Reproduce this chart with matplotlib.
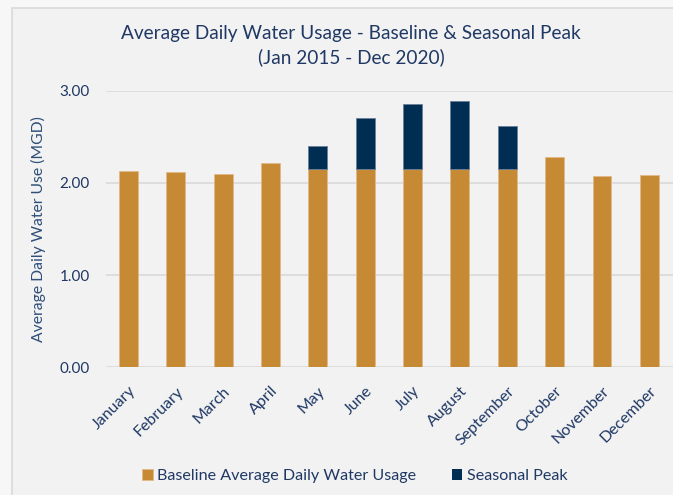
import matplotlib
matplotlib.use("Agg")
import matplotlib.pyplot as plt
from matplotlib.patches import Rectangle

months = ["January", "February", "March", "April", "May", "June", "July",
          "August", "September", "October", "November", "December"]
baseline = [2.13, 2.12, 2.10, 2.22, 2.15, 2.15, 2.15, 2.15, 2.15, 2.28, 2.07, 2.09]
peak = [0.0, 0.0, 0.0, 0.0, 0.25, 0.55, 0.71, 0.74, 0.47, 0.0, 0.0, 0.0]
yticks = [0.0, 1.0, 2.0, 3.0]

orange = "#c78a34"
navy = "#002d52"
text_c = "#1f3864"
bg = "#f2f2f2"

plt.rcParams['font.family'] = ['Lato', 'DejaVu Sans']

fig = plt.figure(figsize=(6.73, 4.95), dpi=100)
fig.patch.set_facecolor("#f7f7f7")
# chart area frame
frame = Rectangle((12/673, -0.1), 1.2, 1.1 - 8/495, transform=fig.transFigure,
                  facecolor=bg, edgecolor="#d9d9d9", linewidth=1.2, zorder=-5)
fig.add_artist(frame)

ax = fig.add_axes([106/673, 1 - 367.3/495, 1 - 106/673, (367.3 - 90.7)/495])
ax.set_facecolor("none")
ax.set_zorder(2)
x = list(range(len(months)))
ax.bar(x, baseline, width=0.40, color=orange, edgecolor="#e0b98a", linewidth=0.6,
       label="Baseline Average Daily Water Usage", zorder=3)
peak_edges = ["#6b7f99" if p > 0 else "none" for p in peak]
ax.bar(x, peak, width=0.40, bottom=baseline, color=navy, edgecolor=peak_edges, linewidth=0.6,
       label="Seasonal Peak", zorder=3)

ax.set_ylim(0, 3)
ax.set_xlim(-0.475, 11.5)
ax.set_yticks(yticks)
ax.set_yticklabels([f"{v:.2f}" for v in yticks], color=text_c, fontsize=11)
ax.yaxis.grid(True, color="#d9d9d9", linewidth=1.2, zorder=0)
ax.set_axisbelow(True)
for s in ax.spines.values():
    s.set_visible(False)
ax.tick_params(axis="both", length=0)
ax.tick_params(axis="y", pad=11.5)
ax.set_xticks(x)
ax.set_xticklabels(months, rotation=45, ha="right", rotation_mode="anchor",
                   color=text_c, fontsize=11.5)
ax.tick_params(axis="x", pad=12)
ax.set_ylabel("Average Daily Water Use (MGD)", color="#2e4f79", fontsize=11.3, labelpad=10)

fig.text(0.522, 1 - 33/495, "Average Daily Water Usage - Baseline & Seasonal Peak",
         ha="center", va="center", fontsize=13.7, color=text_c)
fig.text(0.522, 1 - 57/495, "(Jan 2015 - Dec 2020)",
         ha="center", va="center", fontsize=13.7, color=text_c)

handles, labels = ax.get_legend_handles_labels()
leg = fig.legend(handles, labels, loc="center", bbox_to_anchor=(355/673, 1 - 476/495),
                 ncol=2, frameon=False, fontsize=11.6, handlelength=0.65, handleheight=0.65,
                 handletextpad=0.3, columnspacing=2.2)
for t in leg.get_texts():
    t.set_color(text_c)

fig.savefig("out.png", dpi=100, facecolor=fig.get_facecolor())
